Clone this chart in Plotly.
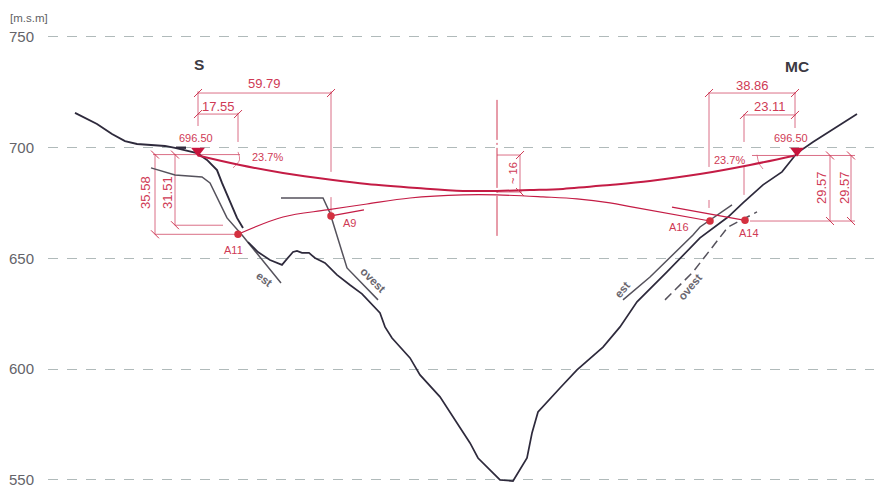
import plotly.graph_objects as go

# ---- data (x: hidden station along the section, y: elevation in m.s.m) ----
elev_ticks = [550, 600, 650, 700, 750]

terrain_upper_x = [75, 97, 112, 125, 137, 150, 165, 175, 185, 197, 207, 217, 222, 228, 237, 243]
terrain_upper_y = [715.7, 710.7, 706.2, 703.0, 701.7, 701.2, 700.8, 699.9, 699.0, 697.6, 694.5, 689.9, 684.1, 677.8, 668.3, 663.8]
terrain_x = [248, 258, 270, 282, 287, 293, 297, 302, 309, 315, 325, 337, 350, 362, 380, 385, 392, 410, 420, 440, 457, 470, 478, 500, 513, 527, 532, 538, 560, 577, 603, 620, 637, 667, 700, 715, 728, 743, 763, 782, 797, 813, 857]
terrain_y = [657.4, 652.9, 649.3, 647.1, 649.8, 652.9, 653.4, 652.5, 652.5, 650.2, 648.0, 642.6, 638.0, 634.0, 625.4, 619.1, 614.1, 605.1, 597.4, 587.5, 575.7, 566.7, 559.9, 550.0, 549.5, 559.9, 571.2, 580.7, 591.5, 599.7, 610.0, 619.1, 630.4, 643.9, 659.3, 664.2, 668.7, 675.1, 683.2, 689.1, 697.6, 702.6, 715.2]
stub_x = [176, 186]
stub_y = [700.0, 700.0]

est_left_x = [151, 175, 202, 210, 227, 242, 281]
est_left_y = [690.9, 687.7, 686.8, 684.1, 668.3, 660.6, 638.9]
ovest_left_x = [281, 323, 330, 347, 378]
ovest_left_y = [677.3, 677.3, 670.5, 645.7, 631.3]
est_right_x = [623, 650, 693, 700, 732]
est_right_y = [631.3, 641.6, 660.6, 664.2, 674.2]
ovest_right_x = [665, 693, 728, 757]
ovest_right_y = [631.3, 643.9, 664.2, 671.0]

deck_x = [198, 240, 283, 333, 367, 417, 463, 497, 530, 563, 610, 650, 700, 750, 795]
deck_y = [696.5, 692.2, 688.6, 685.4, 683.6, 681.8, 680.5, 680.5, 680.9, 681.4, 683.2, 685.0, 688.1, 692.2, 696.5]
arch_x = [238, 283, 327, 367, 410, 463, 497, 543, 577, 610, 633, 710]
arch_y = [660.9, 668.7, 671.9, 674.6, 677.3, 678.7, 678.7, 677.8, 676.9, 675.1, 673.2, 666.9]
arch2_x = [672, 745]
arch2_y = [673.2, 667.2]
a9_tan_x = [331, 364]
a9_tan_y = [669.2, 671.9]

anchor_x = [238, 331, 710, 745]
anchor_y = [660.9, 669.2, 666.9, 667.2]
abut_x = [198, 797]
abut_y = [698.6, 698.6]

dim_x = [198, 332, None, 198, 198, None, 331, 331, None, 331, 331, None, 198, 238, None, 238, 238, None,
         153, 240, None, 155, 155, None, 175, 175, None, 155, 238, None, 175, 223, None,
         497, 520, None, 520, 520, None, 497, 522, None,
         709, 796, None, 744, 796, None, 709, 709, None, 709, 709, None, 744, 744, None, 744, 744, None, 795, 795, None,
         797, 855, None, 830, 830, None, 851, 851, None, 750, 855, None, 752, 793]
dim_y = [724.7, 724.7, None, 725.5, 709.8, None, 725.5, 689.1, None, 677.7, 670.5, None, 715.2, 715.2, None, 715.8, 702.6, None,
         696.9, 696.9, None, 697.2, 660.9, None, 697.2, 665.0, None, 660.9, 660.9, None, 665.0, 665.0, None,
         696.7, 696.7, None, 696.7, 680.0, None, 680.0, 680.0, None,
         724.7, 724.7, None, 714.8, 714.8, None, 725.2, 691.3, None, 676.4, 672.8, None, 715.2, 702.6, None, 691.3, 678.7, None, 725.2, 708.9, None,
         696.5, 696.5, None, 696.5, 666.9, None, 696.5, 666.9, None, 666.9, 666.9, None, 696.5, 696.5]
arc_x = [238, 239.5, 233, None, 757, 759, 763]
arc_y = [698.1, 694.5, 690.9, None, 696.8, 693.0, 690.4]
axis_x = [497, 497]
axis_y = [721.6, 659.3]
tick_ne_x = [198, 331, 198, 238, 520, 709, 795, 744, 795]
tick_ne_y = [724.7, 724.7, 715.2, 715.2, 696.7, 724.7, 724.7, 714.8, 714.8]
tick_nw_x = [155, 175, 155, 175, 520, 830, 851, 830, 851]
tick_nw_y = [696.9, 696.9, 660.9, 665.0, 680.0, 696.5, 696.5, 666.9, 666.9]

dim_labels = ["59.79", "17.55", "38.86", "23.11"]
dim_label_x = [264, 218, 752, 770]
dim_label_y = [728.8, 718.8, 728.3, 718.4]
small_labels = ["696.50", "696.50", "23.7%", "23.7%", "A11", "A9", "A16", "A14"]
small_label_x = [196, 791, 267, 729, 233, 349, 679, 749]
small_label_y = [704.4, 704.4, 695.8, 694.5, 653.8, 666.0, 664.2, 661.5]
rot_labels = ["35.58", "31.51", "29.57", "29.57", "~ 16"]
rot_label_x = [146, 168, 821, 844, 513]
rot_label_y = [679.6, 679.6, 681.8, 681.8, 688.6]
site_labels = ["S", "MC"]
site_label_x = [199, 797]
site_label_y = [737.4, 736.9]
side_labels = ["est", "ovest", "est", "ovest"]
side_label_x = [264, 373, 622, 690]
side_label_y = [640.7, 640.3, 635.8, 637.1]
side_label_rot = [38, 45, -50, -50]

RED = "#c41c45"
RED_TXT = "#cf3a55"
RED_DIM = "#d65f78"
DARK = "#2e2a3c"
GREY = "#55525c"
FONT = "Liberation Sans"

fig = go.Figure()


def line(x, y, color, width, dash=None, shape="linear"):
    fig.add_trace(go.Scatter(x=x, y=y, mode="lines", showlegend=False, hoverinfo="skip",
                             connectgaps=False,
                             line=dict(color=color, width=width, dash=dash, shape=shape)))


line(dim_x, dim_y, RED_DIM, 0.9)
line(arc_x, arc_y, RED_DIM, 0.8, shape="spline")
line(axis_x, axis_y, RED_TXT, 1.0, dash="40px,3px,2px,3px")
line(est_left_x, est_left_y, GREY, 1.5)
line(ovest_left_x, ovest_left_y, GREY, 1.5)
line(est_right_x, est_right_y, GREY, 1.5)
line(ovest_right_x, ovest_right_y, GREY, 1.5, dash="9px,5px")
line(terrain_upper_x, terrain_upper_y, DARK, 1.9)
line(terrain_x, terrain_y, DARK, 1.7)
line(stub_x, stub_y, DARK, 2.4)
line(deck_x, deck_y, RED, 2.0, shape="spline")
line(arch_x, arch_y, RED, 1.2, shape="spline")
line(arch2_x, arch2_y, RED, 1.2)
line(a9_tan_x, a9_tan_y, RED, 1.2)

for xs, ys, sym in [(tick_ne_x, tick_ne_y, "line-ne"), (tick_nw_x, tick_nw_y, "line-nw")]:
    fig.add_trace(go.Scatter(x=xs, y=ys, mode="markers", showlegend=False, hoverinfo="skip",
                             marker=dict(symbol=sym, size=8, line=dict(color=RED_TXT, width=1))))
fig.add_trace(go.Scatter(x=anchor_x, y=anchor_y, mode="markers", showlegend=False, hoverinfo="skip",
                         marker=dict(symbol="circle", size=7.5, color="#d4303f")))
fig.add_trace(go.Scatter(x=abut_x, y=abut_y, mode="markers", showlegend=False, hoverinfo="skip",
                         marker=dict(symbol="triangle-down", size=12, color="#c8143c")))


def note(text, x, y, size, color, rot=0, bold=False):
    fig.add_annotation(text=f"<b>{text}</b>" if bold else text, x=x, y=y, xref="x", yref="y",
                       showarrow=False, textangle=rot,
                       font=dict(family=FONT, size=size, color=color))


for t, x, y in zip(dim_labels, dim_label_x, dim_label_y):
    note(t, x, y, 13, RED_TXT)
for t, x, y in zip(small_labels, small_label_x, small_label_y):
    note(t, x, y, 11, RED_TXT)
for t, x, y in zip(rot_labels, rot_label_x, rot_label_y):
    note(t, x, y, 13 if t != "~ 16" else 11, RED_TXT, rot=-90)
for t, x, y in zip(site_labels, site_label_x, site_label_y):
    note(t, x, y, 15.5, "#3c3a42", bold=True)
for t, x, y, r in zip(side_labels, side_label_x, side_label_y, side_label_rot):
    note(t, x, y, 11.5, "#6a676f", rot=r, bold=True)
fig.add_annotation(text="[m.s.m]", x=0, xref="paper", xanchor="right", xshift=2, y=758.4, yref="y",
                   showarrow=False, font=dict(family=FONT, size=11.5, color="#5f5f66"))

fig.update_layout(
    width=874, height=487, margin=dict(l=48, r=0, t=0, b=0),
    paper_bgcolor="white", plot_bgcolor="white", showlegend=False,
    xaxis=dict(range=[48, 874], visible=False, fixedrange=True),
    yaxis=dict(range=[546.8, 766.7], tickvals=elev_ticks, ticks="", ticklabelstandoff=13,
               ticklabeloverflow="allow", automargin=False,
               tickfont=dict(family=FONT, size=15, color="#64646a"),
               showgrid=True, gridcolor="#b0baba", griddash="10px,9px", gridwidth=1,
               zeroline=False, showline=False, fixedrange=True),
)

fig.write_html("out.html", config={"displayModeBar": False},
               post_script="document.body.style.margin='0';")
